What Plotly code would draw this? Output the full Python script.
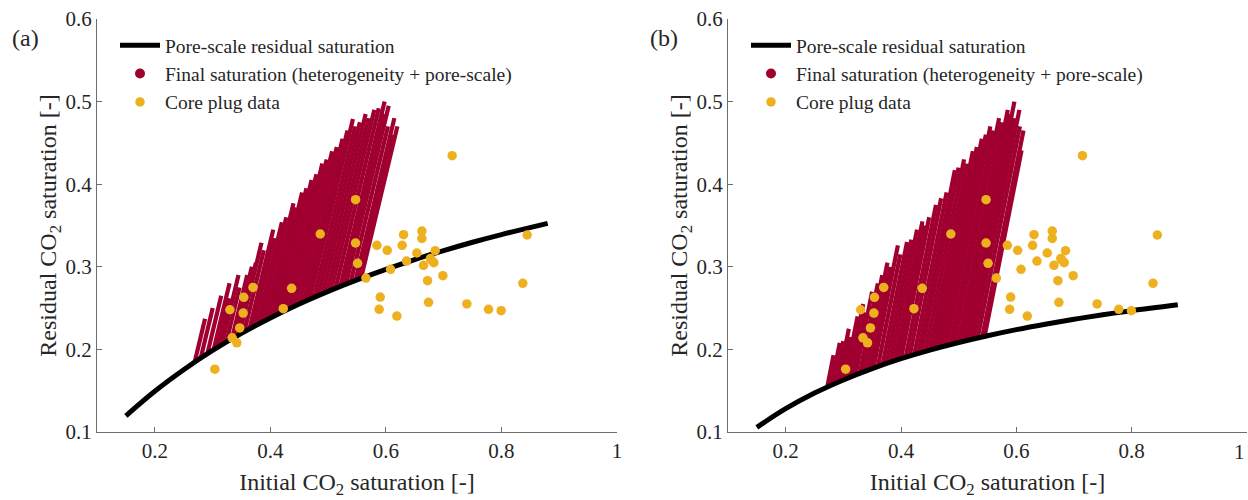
import plotly.graph_objects as go

# ---- pore-scale (Land-type) residual saturation curves ----
curve_si = [0.15, 0.20, 0.25, 0.30, 0.35, 0.40, 0.45, 0.50, 0.55, 0.60, 0.65, 0.70, 0.75, 0.80, 0.88]
curve_sr_a = [0.1196, 0.1493, 0.1754, 0.1987, 0.2194, 0.2381, 0.2550, 0.2703, 0.2842, 0.2970,
              0.3088, 0.3196, 0.3297, 0.3390, 0.3526]
curve_sr_b = [0.1056, 0.1282, 0.1471, 0.1630, 0.1768, 0.1887, 0.1991, 0.2083, 0.2165, 0.2239,
              0.2305, 0.2365, 0.2419, 0.2469, 0.2540]

# ---- final saturation streaks (heterogeneity + pore-scale): start on curve, end at tip ----
streak_a_x0 = [0.269, 0.2795, 0.291, 0.302, 0.309, 0.316, 0.324, 0.3335, 0.339, 0.345, 0.347,
               0.355, 0.364, 0.370, 0.3775, 0.384, 0.3914, 0.397, 0.4034, 0.410, 0.4162,
               0.423, 0.4294, 0.436, 0.4427, 0.450, 0.4573, 0.463, 0.4682, 0.476, 0.4831,
               0.4905, 0.498, 0.5053, 0.513, 0.5212, 0.526, 0.531, 0.539, 0.5474, 0.552, 0.557]
streak_a_y0 = [0.1845, 0.1893, 0.1947, 0.2000, 0.2029, 0.2055, 0.2089, 0.2126, 0.2151, 0.2175,
               0.2188, 0.2214, 0.2249, 0.2271, 0.2300, 0.2323, 0.2349, 0.2370, 0.2392, 0.2416,
               0.2438, 0.2461, 0.2481, 0.2504, 0.2524, 0.2550, 0.2572, 0.2591, 0.2606, 0.2631,
               0.2651, 0.2673, 0.2697, 0.2718, 0.2740, 0.2764, 0.2777, 0.2791, 0.2813, 0.2836,
               0.2848, 0.2862]
streak_a_x1 = [0.287, 0.3003, 0.315, 0.3294, 0.3292, 0.3449, 0.3466, 0.360, 0.368, 0.375,
               0.3847, 0.3888, 0.4051, 0.4069, 0.420, 0.4277, 0.4401, 0.4432, 0.455, 0.4625,
               0.4714, 0.4798, 0.490, 0.4975, 0.507, 0.5151, 0.525, 0.5335, 0.543, 0.5468,
               0.555, 0.565, 0.570, 0.580, 0.5877, 0.5978, 0.597, 0.6049, 0.6036, 0.6147,
               0.612, 0.6199]
streak_a_y1 = [0.237, 0.250, 0.265, 0.280, 0.262, 0.290, 0.275, 0.290, 0.300, 0.305,
               0.329, 0.320, 0.345, 0.335, 0.354, 0.360, 0.377, 0.372, 0.390, 0.395,
               0.405, 0.412, 0.425, 0.430, 0.440, 0.445, 0.455, 0.465, 0.479, 0.470,
               0.475, 0.485, 0.480, 0.490, 0.492, 0.500, 0.485, 0.495, 0.470, 0.480,
               0.460, 0.470]

streak_b_x0 = [0.272, 0.279, 0.285, 0.291, 0.297, 0.303, 0.309, 0.315, 0.321, 0.3286, 0.334,
               0.339, 0.346, 0.352, 0.360, 0.368, 0.375, 0.382, 0.389, 0.395, 0.400,
               0.408, 0.415, 0.423, 0.430, 0.436, 0.443, 0.450, 0.456, 0.462, 0.468,
               0.474, 0.479, 0.486, 0.492, 0.499, 0.505, 0.510, 0.514, 0.520, 0.526,
               0.533, 0.541, 0.545]
streak_b_y0 = [0.1540, 0.1562, 0.1582, 0.1600, 0.1622, 0.1639, 0.1656, 0.1674, 0.1687, 0.1709,
               0.1726, 0.1736, 0.1757, 0.1770, 0.1793, 0.1812, 0.1829, 0.1846, 0.1862, 0.1876,
               0.1887, 0.1904, 0.1919, 0.1936, 0.1950, 0.1963, 0.1976, 0.1991, 0.2000, 0.2014,
               0.2023, 0.2037, 0.2044, 0.2059, 0.2068, 0.2082, 0.2092, 0.2100, 0.2107, 0.2117,
               0.2126, 0.2138, 0.2151, 0.2158]
streak_b_x1 = [0.2830, 0.2938, 0.2998, 0.3096, 0.3121, 0.3247, 0.3345, 0.3372, 0.3499, 0.3598,
               0.3675, 0.3765, 0.3815, 0.3946, 0.3988, 0.4105, 0.4179, 0.4278, 0.4372, 0.4414,
               0.4489, 0.4607, 0.4696, 0.4791, 0.4934, 0.4999, 0.5094, 0.5145, 0.5246, 0.5316,
               0.5402, 0.5472, 0.5549, 0.5600, 0.5701, 0.5752, 0.5852, 0.5886, 0.5967, 0.5967,
               0.6053, 0.6062, 0.6124, 0.6091]
streak_b_y1 = [0.193, 0.208, 0.210, 0.225, 0.215, 0.240, 0.255, 0.245, 0.270, 0.280,
               0.290, 0.305, 0.300, 0.326, 0.315, 0.330, 0.333, 0.345, 0.355, 0.350,
               0.360, 0.375, 0.383, 0.390, 0.417, 0.420, 0.430, 0.425, 0.440, 0.445,
               0.455, 0.460, 0.470, 0.465, 0.480, 0.475, 0.490, 0.485, 0.500, 0.480,
               0.490, 0.470, 0.465, 0.441]

# ---- core plug measurements ----
plug_si = [0.304, 0.330, 0.334, 0.342, 0.347, 0.353, 0.354, 0.370, 0.4224, 0.4368, 0.4864,
           0.5475, 0.5475, 0.551, 0.5654, 0.5844, 0.5884, 0.5902, 0.6023, 0.6081, 0.619,
           0.6282, 0.6306, 0.6358, 0.6536, 0.6623, 0.6623, 0.6652, 0.6721, 0.6738, 0.677,
           0.6791, 0.683, 0.6853, 0.6986, 0.7147, 0.7401, 0.7776, 0.7995, 0.837, 0.8445]
plug_sr = [0.176, 0.248, 0.214, 0.208, 0.226, 0.244, 0.263, 0.275, 0.2493, 0.274, 0.3397,
           0.3812, 0.3288, 0.3042, 0.2864, 0.326, 0.2485, 0.2634, 0.3199, 0.297, 0.2404,
           0.326, 0.3389, 0.307, 0.3167, 0.3433, 0.3344, 0.3018, 0.2832, 0.257, 0.310,
           0.3082, 0.305, 0.3195, 0.2893, 0.4345, 0.255, 0.2485, 0.2469, 0.280, 0.3385]

x_ticks = [0.2, 0.4, 0.6, 0.8, 1.0]
x_ticktext = ["0.2", "0.4", "0.6", "0.8", "1"]
# right panel: the last label sits at the page edge, drawn separately right-aligned
x2_ticktext = ["0.2", "0.4", "0.6", "0.8", ""]
y_ticks = [0.1, 0.2, 0.3, 0.4, 0.5, 0.6]
y_ticktext = ["0.1", "0.2", "0.3", "0.4", "0.5", "0.6"]

RED = "#A00030"
YELLOW = "#EDB120"
FONT = "Liberation Serif"
TXT = "#262626"
AXC = "#6e6e6e"

W, H = 1248, 500


def segments(x0, y0, x1, y1):
    xs, ys = [], []
    for a, b, c, d in zip(x0, y0, x1, y1):
        xs += [a, c, None]
        ys += [b, d, None]
    return xs, ys


fig = go.Figure()

panels = [
    ("x", "y", "legend", curve_sr_a, (streak_a_x0, streak_a_y0, streak_a_x1, streak_a_y1)),
    ("x2", "y2", "legend2", curve_sr_b, (streak_b_x0, streak_b_y0, streak_b_x1, streak_b_y1)),
]

for xa, ya, lg, curve_sr, streaks in panels:
    sx, sy = segments(*streaks)
    fig.add_trace(go.Scatter(x=sx, y=sy, mode="lines", xaxis=xa, yaxis=ya,
                             line=dict(color=RED, width=4.2), showlegend=False,
                             hoverinfo="skip"))
    fig.add_trace(go.Scatter(x=curve_si, y=curve_sr, mode="lines", xaxis=xa, yaxis=ya,
                             line=dict(color="black", width=5, shape="spline"),
                             name="Pore-scale residual saturation", legend=lg, legendrank=1))
    fig.add_trace(go.Scatter(x=[None], y=[None], mode="markers", xaxis=xa, yaxis=ya,
                             marker=dict(color=RED, size=10),
                             name="Final saturation (heterogeneity + pore-scale)",
                             legend=lg, legendrank=2))
    fig.add_trace(go.Scatter(x=plug_si, y=plug_sr, mode="markers", xaxis=xa, yaxis=ya,
                             marker=dict(color=YELLOW, size=9.5),
                             name="Core plug data", legend=lg, legendrank=3))

axis_common = dict(showline=True, linecolor=AXC, linewidth=1, ticks="inside", ticklen=5,
                   tickcolor=AXC, showgrid=False, zeroline=False, mirror=False,
                   automargin=False,
                   tickfont=dict(family=FONT, size=21, color=TXT))

xtitle = dict(text="Initial CO<sub>2</sub> saturation [-]", font=dict(family=FONT, size=24, color=TXT),
              standoff=10)
ytitle = dict(text="Residual CO<sub>2</sub> saturation [-]", font=dict(family=FONT, size=24, color=TXT),
              standoff=2)

ydom = [(H - 432) / H, (H - 19) / H]
legend_common = dict(xanchor="left", yanchor="top", bgcolor="rgba(0,0,0,0)",
                     font=dict(family=FONT, size=19.5, color=TXT), tracegroupgap=0, itemwidth=40)
fig.update_layout(
    template="none",
    width=W, height=H,
    margin=dict(l=0, r=0, t=0, b=0),
    paper_bgcolor="white", plot_bgcolor="white",
    xaxis=dict(domain=[97 / W, 617 / W], range=[0.1, 1.0], tickvals=x_ticks, ticktext=x_ticktext,
               title=xtitle, anchor="y", **axis_common),
    yaxis=dict(domain=ydom, range=[0.1, 0.6], tickvals=y_ticks, ticktext=y_ticktext,
               title=ytitle, anchor="x", **axis_common),
    xaxis2=dict(domain=[728 / W, 1247 / W], range=[0.1, 1.0], tickvals=x_ticks, ticktext=x2_ticktext,
                title=xtitle, anchor="y2", **axis_common),
    yaxis2=dict(domain=ydom, range=[0.1, 0.6], tickvals=y_ticks, ticktext=y_ticktext,
                title=ytitle, anchor="x2", **axis_common),
    legend=dict(x=115 / W, y=1 - 26 / H, **legend_common),
    legend2=dict(x=746 / W, y=1 - 26 / H, **legend_common),
    annotations=[
        dict(text="(a)", x=25 / W, y=1 - 38 / H, xref="paper", yref="paper", showarrow=False,
             xanchor="center", yanchor="middle", font=dict(family=FONT, size=24, color=TXT)),
        dict(text="(b)", x=664 / W, y=1 - 38 / H, xref="paper", yref="paper", showarrow=False,
             xanchor="center", yanchor="middle", font=dict(family=FONT, size=24, color=TXT)),
        dict(text=x_ticktext[-1], x=x_ticks[-1], xref="x2", y=1 - 452 / H, yref="paper",
             showarrow=False, xanchor="right", yanchor="middle",
             font=dict(family=FONT, size=21, color=TXT)),
    ],
)

fig.write_html("out.html")
